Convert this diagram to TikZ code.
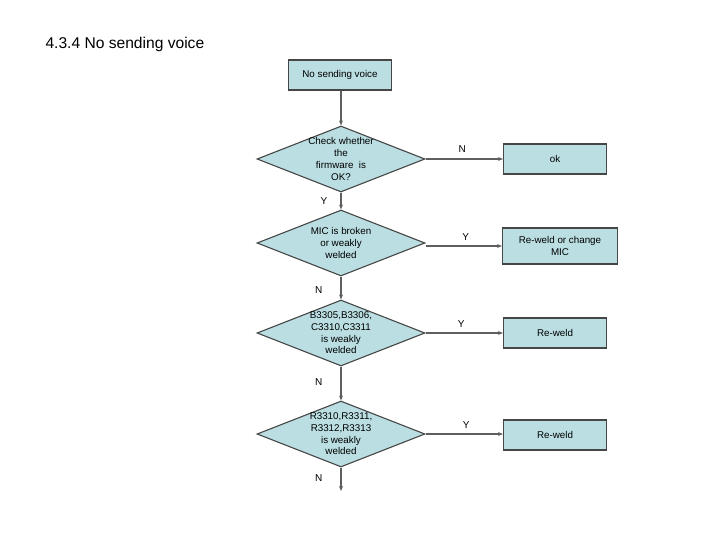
\documentclass[tikz,border=0pt]{standalone}
\usepackage{fontspec}
\setmainfont{Liberation Sans}
\usetikzlibrary{shapes.geometric, arrows.meta}
\definecolor{boxfill}{RGB}{186,222,226}
\definecolor{boxline}{RGB}{70,70,70}
\definecolor{flowline}{RGB}{95,95,95}

\begin{document}
\begin{tikzpicture}[x=1pt,y=-1pt,procbox/.style={draw=boxline,line width=1.1pt,fill=boxfill,align=center,font=\fontsize{9.8}{11.7}\selectfont,minimum width=103,minimum height=30,inner sep=1pt},decision/.style={draw=boxline,line width=1.1pt,fill=boxfill,shape=diamond,minimum width=168,minimum height=66,inner sep=0pt},dtext/.style={align=center,font=\fontsize{9.8}{11.7}\selectfont,inner sep=0pt},arrow/.style={draw=flowline,line width=1.2pt,-{Stealth[length=5pt,width=4pt]}},lbl/.style={font=\fontsize{10}{12}\selectfont,inner sep=1pt},title/.style={font=\fontsize{15.6}{18}\selectfont}]
\useasboundingbox (0,0) rectangle (720,540);
\node[anchor=west, title] (head) at (42,44) {4.3.4 No sending voice};
\node[procbox] (start) at (340,75) {No sending voice};
\node[decision, label={[dtext]center:{Check whether\\the\\firmware\ \ is\\OK?}}] (firm) at (341,159) {};
\node[decision, label={[dtext]center:{MIC is broken\\or weakly\\welded}}] (mic) at (341,243) {};
\node[decision, label={[dtext]center:{B3305,B3306,\\C3310,C3311\\is weakly\\welded}}] (bcap) at (341,333) {};
\node[decision, label={[dtext]center:{R3310,R3311,\\R3312,R3313\\is weakly\\welded}}] (rres) at (341,434) {};
\node[procbox] (ok) at (555,159) {ok};
\node[procbox, minimum width=115, minimum height=36] (change) at (560,246) {Re-weld or change\\MIC};
\node[procbox] (reweldb) at (555,333) {Re-weld};
\node[procbox] (reweldr) at (555,435) {Re-weld};
\coordinate (tail) at (341,491);
\draw[arrow] (start.south -| firm.north) -- (firm.north);
\draw[arrow] (firm.south) -- node[lbl, pos=0.5, left=12pt] (firmy) {Y} (mic.north);
\draw[arrow] (mic.south) -- node[lbl, pos=0.6, left=17pt] (micn) {N} (bcap.north);
\draw[arrow] (bcap.south) -- node[lbl, pos=0.45, left=17pt] (bcapn) {N} (rres.north);
\draw[arrow] (rres.south) -- node[lbl, pos=0.45, left=17pt] (rresn) {N} (tail);
\draw[arrow] (firm.east) -- node[lbl, above=5pt, xshift=-2pt] (firmn) {N} (firm.east -| ok.west);
\draw[arrow] (mic.east) ++(0,3) -- node[lbl, above=4pt, xshift=2pt] (micy) {Y} (change.west);
\draw[arrow] (bcap.east) -- node[lbl, above=4pt, xshift=-3pt] (bcapy) {Y} (bcap.east -| reweldb.west);
\draw[arrow] (rres.east) -- node[lbl, above=4pt, xshift=2pt] (rresy) {Y} (rres.east -| reweldr.west);
\end{tikzpicture}
\end{document}
